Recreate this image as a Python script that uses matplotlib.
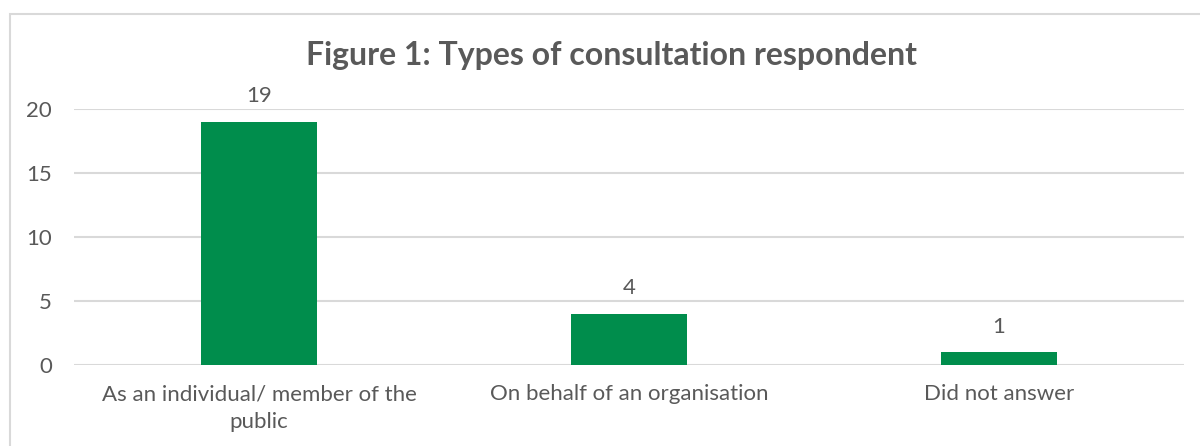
import matplotlib
matplotlib.use("Agg")
import matplotlib.pyplot as plt
from matplotlib.patches import Rectangle

categories = ["As an individual/ member of the\npublic", "On behalf of an organisation", "Did not answer"]
values = [19, 4, 1]
yticks = [0, 5, 10, 15, 20]

plt.rcParams['font.family'] = ['Lato', 'DejaVu Sans']
grey = "#595959"
green = "#008D4C"

fig = plt.figure(figsize=(12, 4.46), dpi=100)
ax = fig.add_axes([74/1200, 1-365/446, 1110/1200, 256/446])

x = list(range(len(categories)))
ax.bar(x, values, width=0.314, color=green, zorder=3)
for xi, v in zip(x, values):
    ax.annotate(str(v), (xi, v), xytext=(0, 14), textcoords='offset points',
                ha='center', va='baseline', fontsize=16, color=grey)

ax.set_xlim(-0.5, 2.5)
ax.set_ylim(0, 20)
ax.set_yticks(yticks)
ax.set_yticklabels([str(t) for t in yticks], fontsize=16, color=grey)
ax.set_xticks(x)
ax.set_xticklabels(categories, fontsize=16, color=grey, linespacing=1.5)
ax.tick_params(axis='x', length=0, pad=14)
ax.tick_params(axis='y', length=0, pad=16)
ax.grid(axis='y', color='#D9D9D9', linewidth=1.5, zorder=0)
for s in ax.spines.values():
    s.set_visible(False)

fig.text(611/1200, 1-55/446, "Figure 1: Types of consultation respondent", ha='center', va='center',
         fontsize=23, fontweight='bold', color=grey)

fig.patches.append(Rectangle((10/1200, -0.1), 1.2, 1-14/446+0.1, transform=fig.transFigure,
                             fill=False, edgecolor='#D9D9D9', linewidth=1.5))

fig.savefig("out.png", dpi=100)
